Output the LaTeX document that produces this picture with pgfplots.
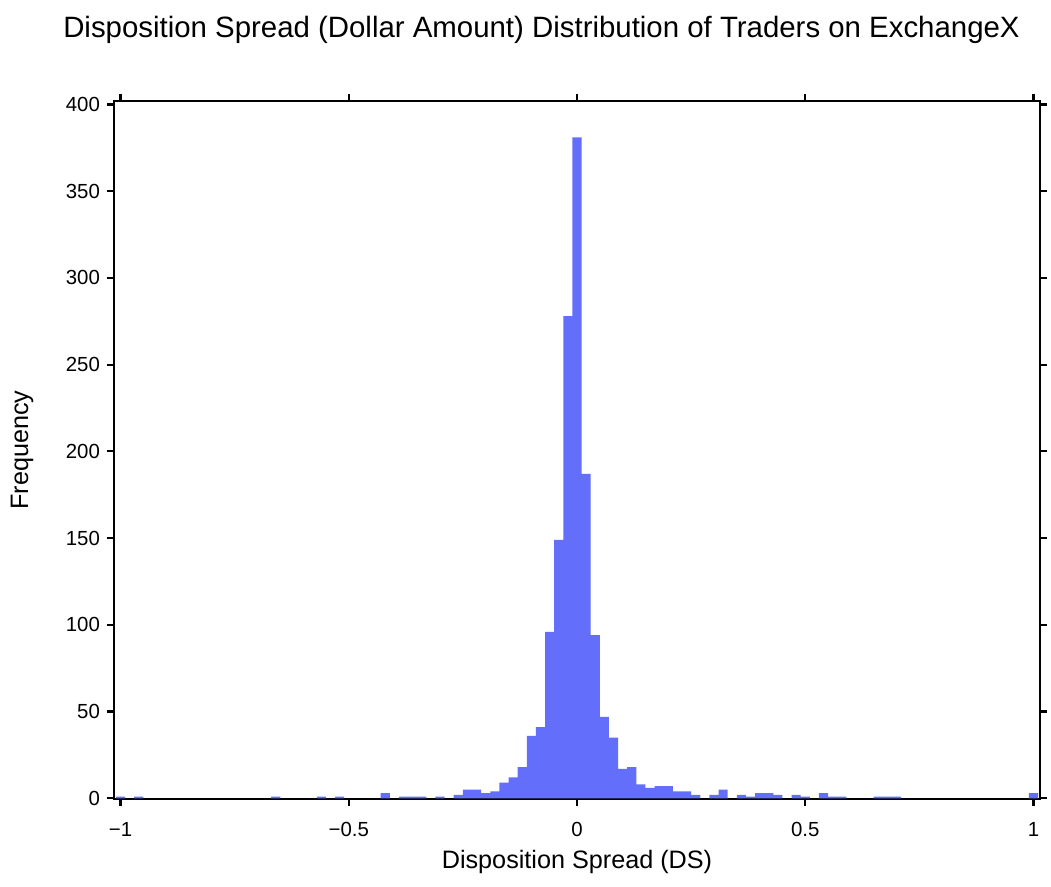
\documentclass[border=0pt]{standalone}
\usepackage{fontspec}
\setmainfont{Liberation Sans}
\usepackage{pgfplots}
\pgfplotsset{compat=1.18}
\definecolor{barblue}{RGB}{99,110,250}
\begin{document}
\begin{tikzpicture}
\path[use as bounding box] (0,0) rectangle (525.5pt,443.5pt);
\begin{axis}[
  at={(57pt,44pt)}, anchor=south west,
  width=463pt, height=349pt, scale only axis,
  xmin=-1.0142, xmax=1.0142, ymin=-0.4, ymax=402,
  axis line style={line width=1.4pt},
  tick align=outside,
  tick style={line width=1.1pt, black},
  major tick length=3.5pt,
  xtick={-1,-0.5,0,0.5,1},
  xticklabels={−1,−0.5,0,0.5,1},
  ytick={0,50,...,400},
  ticklabel style={font=\fontsize{10.2}{12}\selectfont},
  xticklabel style={yshift=-4.5pt},
  /pgf/number format/assume math mode=true,
  ybar, bar width=0.02, bar shift=0pt,
]
\addplot[fill=barblue, draw=none] coordinates {
(-1.00,1) (-0.96,1) (-0.66,1) (-0.56,1) (-0.52,1) (-0.42,3) (-0.38,1) (-0.36,1) (-0.34,1) (-0.30,1)
(-0.26,2) (-0.24,5) (-0.22,5) (-0.20,3) (-0.18,4) (-0.16,9) (-0.14,12) (-0.12,18) (-0.10,36) (-0.08,41)
(-0.06,96) (-0.04,149) (-0.02,278) (0,381) (0.02,187) (0.04,94) (0.06,47) (0.08,35) (0.10,17) (0.12,18)
(0.14,8) (0.16,6) (0.18,7) (0.20,7) (0.22,4) (0.24,4) (0.26,2) (0.30,2) (0.32,5) (0.36,2) (0.38,1)
(0.40,3) (0.42,3) (0.44,2) (0.48,2) (0.50,1) (0.54,3) (0.56,1) (0.58,1) (0.66,1) (0.68,1) (0.70,1) (1.00,3)
};
\end{axis}
\node[font=\fontsize{14.7}{17}\selectfont] at (270.75pt,428.5pt) {Disposition Spread (Dollar Amount) Distribution of Traders on ExchangeX};
\node[font=\fontsize{12.6}{15}\selectfont] at (288.5pt,12.5pt) {Disposition Spread (DS)};
\node[font=\fontsize{12.6}{15}\selectfont, rotate=90] at (11pt,218.5pt) {Frequency};
\end{tikzpicture}
\end{document}
